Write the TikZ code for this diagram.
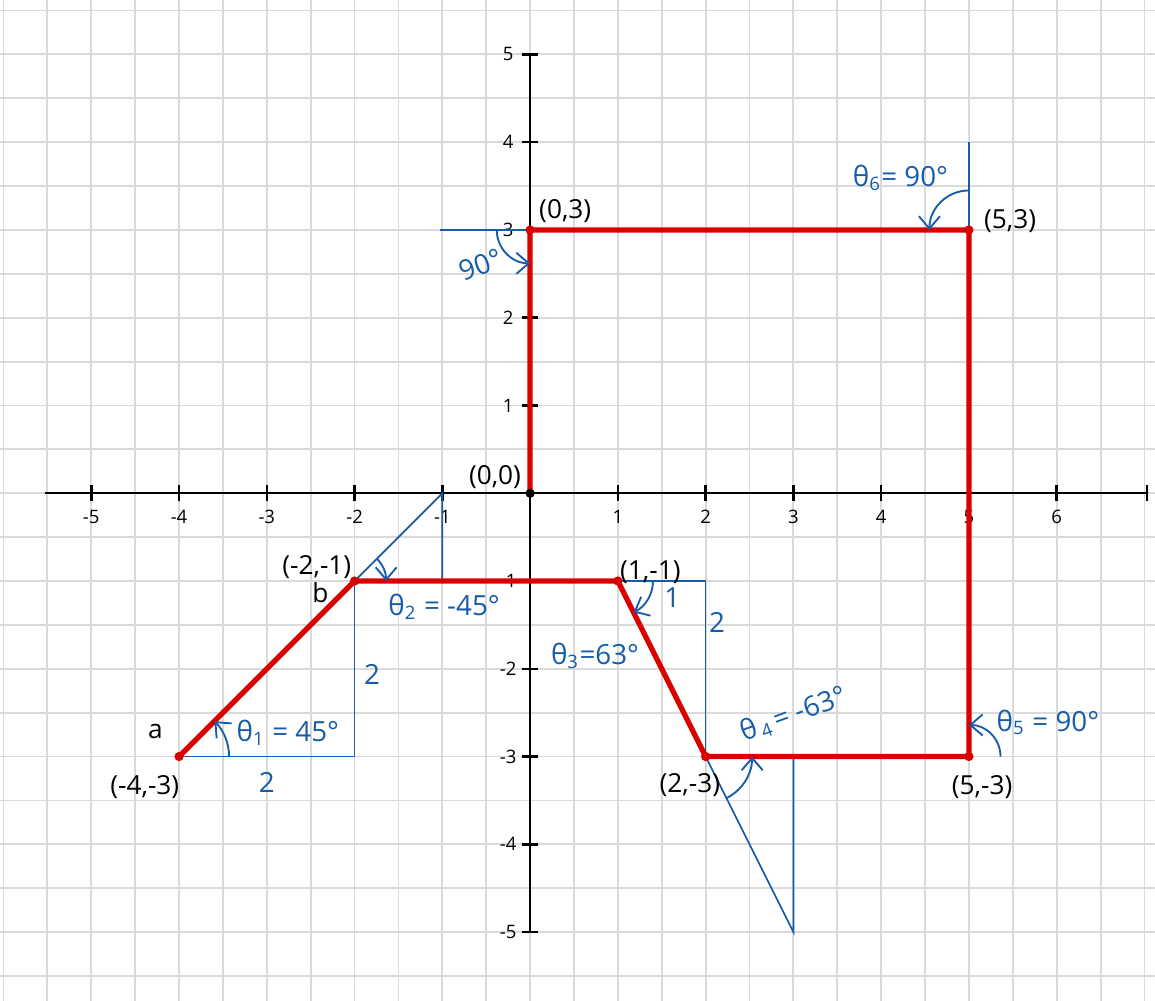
\documentclass[tikz,border=0pt]{standalone}
\usepackage{fontspec}
\setmainfont{Open Sans}
\usetikzlibrary{arrows.meta}
\definecolor{gridc}{RGB}{218,218,218}
\definecolor{redc}{RGB}{218,0,0}
\definecolor{bluec}{RGB}{22,92,168}
\begin{document}
\begin{tikzpicture}[
  gridline/.style={gridc, line width=0.6pt},
  axis/.style={black, line width=0.8pt},
  redpath/.style={redc, line width=1.7pt, line join=round},
  aux/.style={bluec, line width=0.55pt},
  angarrow/.style={bluec, line width=0.6pt, -{Straight Barb[length=1.4mm,width=2.4mm]}},
  ticklab/.style={font=\fontsize{6}{7}\selectfont, inner sep=0pt},
  ptlab/.style={font=\fontsize{8.5}{10}\selectfont, inner sep=0pt},
  bluelab/.style={bluec, font=\fontsize{9}{11}\selectfont, inner sep=0pt},
  rdot/.style={circle, fill=redc, inner sep=0pt, minimum size=3pt},
  kdot/.style={circle, fill=black, inner sep=0pt, minimum size=3pt}
]
\useasboundingbox (-6.04,-5.78) rectangle (7.12,5.62);
\fill[white] (-6.04,-5.78) rectangle (7.12,5.62);
\begin{scope}
\clip (-6.04,-5.78) rectangle (7.12,5.62);
\draw[gridline] (-6.04,-5.78) grid[step=0.5] (7.12,5.62);
\end{scope}

% axes
\draw[axis] (-5.53,0) -- (7.03,0);
\draw[axis] (0,5) -- (0,-5);
\draw[axis] (7.03,0.09) -- (7.03,-0.09);
\foreach \x in {-5,-4,-3,-2,-1,1,2,3,4,5,6}
  \draw[axis] (\x,0.09) -- (\x,-0.09);
\foreach \x in {-5,-4,-3,-2,-1,1,2,3,4,5,6}
  \node[ticklab] (xl\x) at (\x,-0.27) {\x};
\foreach \y in {-5,-4,-3,-2,-1,1,2,3,4,5}
  \draw[axis] (0.09,\y) -- (-0.09,\y);
\foreach \y in {-5,-4,-3,-2,-1,1,2,3,4,5}
  \node[ticklab] (yl\y) at (-0.25,\y) {\y};

% vertices
\coordinate (O) at (0,0);
\coordinate (A) at (0,3);
\coordinate (B) at (5,3);
\coordinate (C) at (5,-3);
\coordinate (D) at (2,-3);
\coordinate (E) at (1,-1);
\coordinate (F) at (-2,-1);
\coordinate (G) at (-4,-3);
\coordinate (T1) at (-2,-3);
\coordinate (T2) at (-1,0);
\coordinate (T2b) at (-1,-1);
\coordinate (T3) at (2,-1);
\coordinate (T4) at (3,-5);
\coordinate (T4b) at (3,-3);
\coordinate (T6) at (5,4);
\coordinate (T0) at (-1.03,3);

% blue construction lines
\draw[aux] (G) -- (T1) -- (F);
\draw[aux] (F) -- (T2) -- (T2b);
\draw[aux] (E) -- (T3) -- (D);
\draw[aux] (D) -- (T4) -- (T4b);
\draw[aux] (B) -- (T6);
\draw[aux] (A) -- (T0);

% red path
\draw[redpath] (O) -- (A) -- (B) -- (C) -- (D) -- (E) -- (F) -- (G);
\foreach \p in {A,B,C,D,E,F,G} \node[rdot] (dot\p) at (\p) {};
\node[kdot] (dotO) at (O) {};

% angle arcs
\draw[angarrow] ([shift={(0:0.57)}]G) arc[start angle=0,end angle=45,radius=0.57];
\draw[angarrow] ([shift={(45:0.36)}]F) arc[start angle=45,end angle=0,radius=0.36];
\draw[angarrow] ([shift={(0:0.4)}]E) arc[start angle=0,end angle=-63.4,radius=0.4];
\draw[angarrow] ([shift={(-63.4:0.53)}]D) arc[start angle=-63.4,end angle=0,radius=0.53];
\draw[angarrow] ([shift={(0:0.36)}]C) arc[start angle=0,end angle=90,radius=0.36];
\draw[angarrow] ([shift={(90:0.45)}]B) arc[start angle=90,end angle=180,radius=0.45];
\draw[angarrow] ([shift={(180:0.38)}]A) arc[start angle=180,end angle=270,radius=0.38];

% point labels
\node[ptlab] (lO) at (-0.4,0.18) {(0,0)};
\node[ptlab] (lA) at (0.4,3.21) {(0,3)};
\node[ptlab] (lB) at (5.47,3.1) {(5,3)};
\node[ptlab] (lC) at (5.15,-3.35) {(5,-3)};
\node[ptlab] (lD) at (1.82,-3.33) {(2,-3)};
\node[ptlab] (lE) at (1.37,-0.9) {(1,-1)};
\node[ptlab] (lF) at (-2.43,-0.84) {(-2,-1)};
\node[ptlab] (lG) at (-4.39,-3.35) {(-4,-3)};
\node[ptlab] (la) at (-4.27,-2.71) {a};
\node[ptlab] (lb) at (-2.39,-1.13) {b};

% blue labels
\node[bluelab] (s1) at (-3,-3.3) {2};
\node[bluelab] (s2) at (-1.8,-2.07) {2};
\node[bluelab] (s3) at (1.62,-1.19) {1};
\node[bluelab] (s4) at (2.13,-1.47) {2};
\node[bluelab] (th1) at (-2.76,-2.73) {θ\textsubscript{1} = 45°};
\node[bluelab] (th2) at (-0.98,-1.29) {θ\textsubscript{2} = -45°};
\node[bluelab] (th3) at (0.74,-1.85) {θ\textsubscript{3}=63°};
\node[bluelab, rotate=20] (th4) at (3.0,-2.52) {θ\kern1pt\textsubscript{4}\kern1pt= -63°};
\node[bluelab] (th5) at (5.9,-2.61) {θ\textsubscript{5} = 90°};
\node[bluelab] (th6) at (4.22,3.59) {θ\textsubscript{6}= 90°};
\node[bluelab, rotate=20] (n90) at (-0.56,2.6) {90°};
\end{tikzpicture}
\end{document}
